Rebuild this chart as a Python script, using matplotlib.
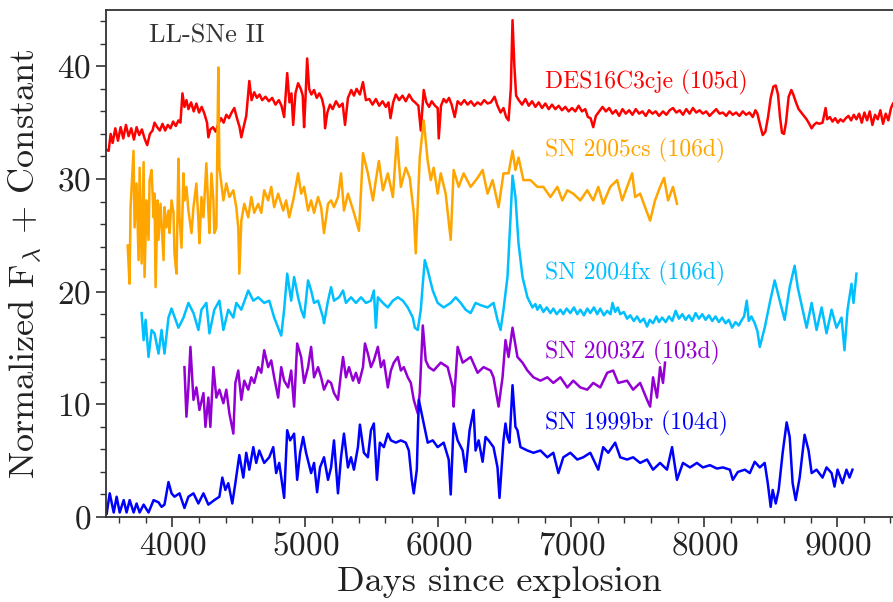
import numpy as np
import matplotlib
matplotlib.use("Agg")
import matplotlib.pyplot as plt
from matplotlib.ticker import MultipleLocator

# font like LaTeX computer modern
plt.rcParams['font.family'] = 'serif'
plt.rcParams['font.serif'] = ['cmr10']
plt.rcParams['mathtext.fontset'] = 'cm'
plt.rcParams['axes.formatter.use_mathtext'] = True

#Spectra (wavelength, flux + offset)
des_wave = [3500, 3520, 3535, 3550, 3570, 3590, 3610, 3630, 3650, 3670, 3690, 3710, 3730, 3750, 3770, 3790, 3810, 3830,
            3850, 3865, 3885, 3905, 3925, 3945, 3965, 3985, 4005, 4025, 4045, 4060, 4075, 4090, 4105, 4120, 4140, 4160,
            4180, 4200, 4220, 4240, 4260, 4270, 4285, 4305, 4325, 4345, 4365, 4385, 4405, 4425, 4445, 4465, 4485, 4505,
            4518, 4535, 4555, 4578, 4595, 4615, 4635, 4655, 4675, 4700, 4725, 4750, 4775, 4800, 4820, 4840, 4863, 4880,
            4895, 4908, 4925, 4945, 4965, 4980, 4990, 5000, 5013, 5028, 5045, 5065, 5085, 5105, 5125, 5140, 5148, 5165,
            5185, 5205, 5230, 5255, 5280, 5298, 5320, 5345, 5365, 5385, 5410, 5433, 5455, 5480, 5505, 5530, 5555, 5580,
            5605, 5625, 5640, 5660, 5680, 5705, 5730, 5755, 5780, 5805, 5825, 5850, 5868, 5890, 5910, 5930, 5950, 5975,
            5995, 6003, 6020, 6040, 6060, 6080, 6100, 6123, 6145, 6170, 6195, 6220, 6245, 6270, 6295, 6320, 6345, 6370,
            6395, 6423, 6445, 6468, 6490, 6510, 6528, 6545, 6558, 6572, 6585, 6605, 6630, 6655, 6680, 6705, 6730, 6755,
            6780, 6805, 6830, 6855, 6880, 6905, 6930, 6955, 6980, 7005, 7030, 7055, 7080, 7105, 7125, 7145, 7165, 7185,
            7210, 7235, 7260, 7285, 7310, 7335, 7360, 7385, 7410, 7435, 7460, 7485, 7510, 7535, 7560, 7585, 7610, 7635,
            7660, 7690, 7715, 7740, 7765, 7790, 7815, 7840, 7865, 7890, 7915, 7940, 7965, 7990, 8015, 8040, 8065, 8090,
            8115, 8140, 8165, 8190, 8215, 8240, 8265, 8290, 8315, 8340, 8365, 8385, 8400, 8420, 8440, 8460, 8480, 8500,
            8520, 8538, 8555, 8570, 8585, 8600, 8615, 8635, 8655, 8670, 8690, 8710, 8730, 8750, 8770, 8790, 8808, 8825,
            8845, 8865, 8890, 8913, 8925, 8945, 8965, 8985, 9005, 9025, 9045, 9065, 9085, 9105, 9125, 9145, 9165, 9185,
            9205, 9225, 9245, 9265, 9285, 9305, 9325, 9345, 9365, 9385, 9405, 9420]
des_flux = [32.6, 32.5, 34.0, 33.2, 34.5, 33.4, 34.6, 33.6, 34.8, 33.8, 34.5, 33.5, 34.6, 33.9, 34.4, 33.6, 33.0, 34.0,
            34.3, 35.0, 34.6, 34.3, 34.9, 34.3, 34.8, 34.5, 35.1, 34.7, 35.2, 35.0, 37.6, 36.4, 37.0, 36.2, 36.8, 36.0,
            36.7, 35.9, 36.4, 35.8, 35.0, 33.7, 34.4, 34.6, 34.2, 34.9, 35.4, 35.0, 35.7, 35.4, 35.9, 36.3, 35.4, 34.6,
            33.7, 34.6, 35.6, 38.7, 37.0, 37.7, 37.2, 37.5, 37.0, 37.3, 36.9, 37.2, 36.6, 37.0, 36.5, 35.5, 39.4, 36.8,
            37.6, 34.8, 37.6, 38.5, 38.0, 37.4, 34.6, 37.0, 40.7, 38.0, 37.5, 37.9, 37.2, 37.6, 37.1, 36.3, 34.5, 35.9,
            36.6, 36.2, 36.9, 36.4, 36.7, 34.8, 37.2, 37.9, 37.4, 38.0, 37.5, 38.6, 37.0, 37.1, 36.6, 37.1, 36.5, 36.9,
            36.4, 36.8, 35.4, 36.8, 37.5, 37.0, 37.4, 36.9, 37.5, 37.0, 36.8, 36.5, 34.3, 37.9, 36.8, 36.4, 36.9, 36.5,
            36.3, 33.6, 36.5, 37.1, 36.8, 37.2, 36.6, 35.5, 36.9, 36.6, 37.0, 36.6, 36.9, 36.5, 36.8, 36.6, 37.0, 36.7,
            36.8, 37.3, 36.5, 35.9, 36.3, 35.5, 35.2, 38.0, 44.1, 40.0, 37.4, 37.0, 36.6, 37.1, 36.5, 36.9, 36.4, 36.8,
            36.3, 36.7, 36.2, 36.6, 36.2, 36.5, 36.1, 36.4, 36.0, 36.3, 36.0, 36.5, 36.0, 36.2, 35.5, 35.4, 34.6, 35.6,
            36.0, 36.4, 36.0, 36.3, 35.8, 36.1, 35.6, 36.2, 35.8, 36.1, 35.7, 36.2, 35.8, 36.0, 35.6, 36.1, 35.8, 36.0,
            35.6, 36.0, 35.7, 36.1, 36.3, 35.9, 36.1, 35.7, 36.2, 35.8, 36.3, 35.9, 36.1, 35.8, 36.0, 35.6, 35.9, 36.2,
            35.8, 35.9, 35.6, 36.0, 35.7, 35.9, 35.6, 36.0, 35.7, 35.9, 35.5, 36.1, 35.8, 34.8, 33.9, 34.2, 35.5, 37.2,
            38.2, 38.3, 37.5, 35.5, 34.1, 34.0, 35.0, 37.3, 37.9, 37.5, 36.8, 36.2, 35.9, 35.6, 35.3, 34.9, 34.5, 34.8,
            35.0, 34.9, 35.0, 36.3, 35.3, 35.5, 35.1, 35.4, 35.0, 35.3, 35.1, 35.4, 35.6, 35.2, 35.7, 35.3, 35.8, 35.0,
            35.9, 35.2, 36.0, 34.8, 35.7, 35.3, 36.1, 34.9, 35.8, 35.2, 36.3, 36.7]

cs05_wave = [3663, 3677, 3685, 3707, 3715, 3730, 3745, 3753, 3768, 3783, 3790, 3805, 3820, 3828, 3843, 3858, 3865, 3873,
             3888, 3895, 3910, 3933, 3940, 3955, 3970, 3978, 3993, 4008, 4015, 4030, 4045, 4053, 4068, 4083, 4090, 4105,
             4120, 4143, 4158, 4180, 4195, 4203, 4218, 4233, 4255, 4270, 4278, 4293, 4308, 4315, 4330, 4345, 4353, 4383,
             4405, 4428, 4458, 4480, 4495, 4503, 4518, 4540, 4570, 4593, 4615, 4645, 4668, 4690, 4720, 4743, 4765, 4795,
             4833, 4855, 4878, 4908, 4945, 4968, 4990, 5020, 5043, 5065, 5095, 5118, 5140, 5170, 5193, 5215, 5245, 5268,
             5290, 5320, 5365, 5403, 5433, 5470, 5508, 5530, 5553, 5583, 5620, 5658, 5688, 5718, 5755, 5785, 5815, 5830,
             5860, 5890, 5920, 5943, 5965, 5995, 6018, 6055, 6093, 6115, 6153, 6190, 6243, 6295, 6333, 6370, 6408, 6453,
             6490, 6528, 6558, 6580, 6603, 6640, 6693, 6745, 6790, 6843, 6895, 6933, 6970, 7015, 7068, 7120, 7165, 7203,
             7240, 7293, 7345, 7383, 7420, 7458, 7480, 7518, 7555, 7593, 7630, 7668, 7698, 7728, 7765, 7795]
cs05_flux = [24.1, 20.7, 27.5, 32.5, 25.7, 29.6, 22.8, 31.0, 22.5, 31.5, 21.3, 28.1, 24.6, 29.9, 30.8, 26.6, 28.7, 20.4,
             28.1, 24.6, 27.8, 22.8, 27.5, 25.7, 27.2, 25.2, 28.1, 27.0, 23.4, 21.6, 31.8, 26.6, 23.9, 30.5, 28.1, 29.3,
             27.2, 25.2, 27.5, 29.6, 26.3, 24.3, 28.4, 26.6, 31.4, 27.2, 25.2, 30.5, 28.1, 25.2, 25.7, 39.9, 31.0, 28.1,
             29.6, 28.4, 29.0, 27.5, 25.7, 21.6, 26.3, 27.8, 26.6, 28.4, 27.0, 27.8, 27.0, 29.0, 28.1, 29.3, 27.5, 28.7,
             27.2, 28.1, 26.6, 28.1, 30.5, 28.7, 29.3, 27.2, 28.1, 27.0, 28.4, 27.5, 25.2, 27.8, 28.1, 27.5, 28.4, 30.5,
             27.2, 28.7, 27.0, 25.4, 32.3, 30.5, 28.1, 29.9, 31.6, 29.0, 30.5, 28.4, 33.7, 29.3, 31.0, 30.1, 27.0, 23.4,
             31.9, 35.2, 31.6, 29.9, 31.0, 28.7, 30.5, 28.7, 24.6, 30.8, 29.3, 30.5, 29.3, 30.1, 30.8, 28.7, 29.9, 27.5,
             30.5, 30.5, 32.5, 30.8, 31.9, 29.9, 29.9, 29.3, 29.3, 28.4, 29.3, 28.1, 29.0, 28.7, 28.1, 29.0, 28.1, 29.3,
             27.8, 29.3, 29.9, 28.1, 29.3, 30.5, 28.4, 28.7, 27.5, 26.3, 28.1, 29.3, 30.1, 28.1, 29.3, 27.8]

fx04_wave = [3768, 3783, 3798, 3820, 3843, 3865, 3895, 3918, 3940, 3970, 3993, 4045, 4083, 4120, 4158, 4195, 4218, 4255,
             4278, 4315, 4353, 4383, 4420, 4458, 4480, 4518, 4570, 4608, 4645, 4690, 4728, 4765, 4818, 4840, 4863, 4893,
             4915, 4945, 4968, 4990, 5020, 5043, 5065, 5095, 5133, 5140, 5170, 5193, 5215, 5253, 5283, 5305, 5343, 5380,
             5418, 5455, 5493, 5515, 5530, 5545, 5583, 5620, 5658, 5695, 5733, 5770, 5808, 5823, 5845, 5868, 5883, 5898,
             5920, 5958, 5995, 6040, 6093, 6130, 6168, 6205, 6243, 6280, 6318, 6370, 6415, 6445, 6468, 6490, 6520, 6543,
             6558, 6580, 6603, 6633, 6670, 6708, 6730, 6745, 6765, 6790, 6815, 6843, 6865, 6890, 6918, 6940, 6965, 6993,
             7020, 7045, 7068, 7095, 7120, 7143, 7170, 7195, 7218, 7245, 7270, 7295, 7310, 7330, 7350, 7368, 7395, 7420,
             7443, 7470, 7495, 7518, 7545, 7570, 7590, 7615, 7640, 7660, 7683, 7710, 7735, 7760, 7785, 7810, 7835, 7860,
             7885, 7910, 7935, 7960, 7985, 8010, 8035, 8060, 8085, 8110, 8135, 8160, 8185, 8210, 8235, 8260, 8283, 8300,
             8320, 8335, 8355, 8380, 8400, 8418, 8455, 8493, 8530, 8568, 8605, 8643, 8680, 8703, 8740, 8770, 8808, 8845,
             8883, 8920, 8958, 8995, 9033, 9055, 9078, 9108, 9123, 9145]
fx04_flux = [18.1, 15.7, 17.5, 14.2, 16.6, 16.3, 14.5, 16.6, 14.5, 17.7, 18.5, 16.8, 17.7, 19.0, 18.1, 16.6, 18.4, 19.0,
             16.3, 18.4, 19.2, 16.6, 18.4, 17.7, 19.0, 18.4, 20.1, 19.2, 19.5, 19.0, 19.2, 17.7, 16.1, 18.4, 21.6, 19.2,
             21.3, 19.5, 18.4, 17.7, 21.0, 20.1, 19.0, 19.2, 17.7, 17.2, 19.2, 20.4, 19.2, 19.5, 20.1, 19.0, 19.5, 19.0,
             19.5, 19.0, 19.2, 20.1, 16.8, 19.5, 19.0, 18.6, 19.2, 19.5, 19.2, 18.6, 17.7, 16.8, 16.6, 18.4, 20.7, 22.8,
             21.9, 20.1, 19.0, 18.6, 19.0, 19.5, 19.0, 18.4, 18.1, 19.0, 18.8, 18.6, 19.0, 17.5, 16.6, 18.4, 21.3, 26.6,
             30.3, 28.4, 24.3, 21.3, 19.5, 18.6, 18.9, 18.4, 18.8, 18.2, 18.6, 18.1, 18.5, 18.0, 18.4, 18.0, 18.5, 18.1,
             18.6, 18.0, 18.4, 17.9, 18.5, 18.1, 18.6, 18.0, 18.5, 17.9, 18.3, 18.0, 19.0, 18.2, 18.6, 18.0, 18.2, 17.6,
             17.9, 17.4, 17.8, 17.3, 17.6, 16.9, 17.5, 17.2, 17.8, 17.3, 17.7, 17.3, 17.8, 17.4, 18.3, 17.6, 18.0, 17.5,
             17.9, 17.4, 18.1, 17.6, 18.0, 17.5, 17.9, 17.4, 17.8, 17.3, 17.7, 17.2, 17.5, 16.8, 17.3, 17.0, 17.5, 17.8,
             19.2, 17.4, 17.8, 17.2, 16.5, 15.1, 16.8, 19.0, 21.0, 19.2, 17.5, 20.4, 22.3, 20.4, 18.4, 16.8, 19.0, 16.6,
             18.6, 16.3, 18.4, 16.8, 17.7, 14.8, 18.4, 20.7, 19.0, 21.6]

z03_wave = [4090, 4105, 4120, 4135, 4158, 4180, 4203, 4233, 4248, 4270, 4285, 4308, 4330, 4353, 4383, 4405, 4428, 4458,
            4473, 4495, 4518, 4540, 4570, 4593, 4615, 4645, 4668, 4690, 4720, 4743, 4765, 4795, 4818, 4840, 4870, 4893,
            4915, 4938, 4968, 4990, 5020, 5043, 5065, 5095, 5118, 5140, 5170, 5193, 5215, 5245, 5268, 5283, 5305, 5328,
            5358, 5380, 5403, 5433, 5448, 5470, 5493, 5515, 5545, 5568, 5590, 5620, 5643, 5665, 5695, 5718, 5740, 5770,
            5793, 5815, 5845, 5860, 5883, 5905, 5928, 5965, 6018, 6070, 6108, 6115, 6145, 6183, 6243, 6295, 6340, 6393,
            6415, 6453, 6483, 6505, 6528, 6558, 6595, 6633, 6670, 6715, 6768, 6820, 6865, 6918, 6970, 7015, 7068, 7120,
            7165, 7218, 7270, 7315, 7353, 7420, 7465, 7518, 7570, 7593, 7615, 7645, 7668, 7690, 7705]
z03_flux = [13.3, 8.9, 11.5, 15.1, 10.4, 11.5, 9.5, 11.0, 8.0, 10.6, 8.0, 13.3, 10.6, 11.3, 10.1, 11.3, 9.2, 7.4,
            11.9, 13.0, 10.4, 12.1, 11.3, 12.4, 11.9, 13.3, 12.8, 14.8, 13.3, 13.9, 12.4, 10.6, 13.3, 12.1, 11.5, 13.0,
            9.8, 15.4, 14.2, 11.9, 13.3, 15.1, 12.4, 13.3, 12.4, 11.3, 12.1, 11.9, 11.0, 10.4, 12.8, 14.2, 12.4, 13.3,
            12.1, 12.8, 11.9, 13.3, 15.4, 14.5, 13.3, 13.9, 15.1, 13.3, 13.9, 11.5, 13.0, 13.7, 14.2, 13.0, 13.3, 12.4,
            11.9, 10.4, 9.2, 11.0, 17.0, 13.9, 13.3, 13.0, 13.7, 13.3, 11.5, 9.8, 15.1, 13.7, 14.2, 12.8, 13.3, 13.0,
            12.4, 9.8, 12.4, 15.7, 14.2, 16.8, 14.2, 13.7, 13.0, 12.4, 12.1, 12.4, 11.9, 12.4, 11.5, 12.1, 11.5, 11.3,
            11.9, 11.5, 12.8, 13.0, 11.9, 12.1, 11.3, 11.9, 10.4, 9.8, 12.4, 10.6, 13.3, 11.9, 13.7]

br99_wave = [3505, 3528, 3558, 3580, 3603, 3633, 3655, 3678, 3708, 3730, 3753, 3783, 3820, 3858, 3895, 3918, 3940, 3970,
             3993, 4015, 4053, 4090, 4120, 4158, 4195, 4233, 4270, 4315, 4353, 4375, 4398, 4420, 4450, 4473, 4503, 4533,
             4555, 4578, 4608, 4630, 4653, 4690, 4728, 4758, 4780, 4803, 4840, 4863, 4885, 4915, 4938, 4960, 4983, 5005,
             5043, 5065, 5088, 5110, 5140, 5170, 5193, 5215, 5245, 5268, 5290, 5320, 5343, 5365, 5395, 5410, 5440, 5470,
             5493, 5515, 5538, 5560, 5590, 5620, 5643, 5680, 5718, 5755, 5778, 5800, 5815, 5838, 5853, 5890, 5920, 5958,
             5995, 6040, 6078, 6093, 6115, 6145, 6183, 6205, 6235, 6265, 6280, 6303, 6333, 6355, 6378, 6415, 6445, 6460,
             6490, 6505, 6520, 6535, 6558, 6580, 6595, 6618, 6670, 6715, 6768, 6820, 6865, 6903, 6940, 6993, 7045, 7090,
             7143, 7203, 7240, 7278, 7330, 7368, 7420, 7465, 7518, 7570, 7615, 7668, 7720, 7758, 7795, 7840, 7893, 7945,
             7990, 8043, 8095, 8140, 8193, 8215, 8253, 8305, 8343, 8380, 8418, 8455, 8478, 8500, 8515, 8538, 8560, 8590,
             8620, 8643, 8665, 8688, 8718, 8755, 8785, 8808, 8845, 8890, 8920, 8958, 8980, 9003, 9040, 9070, 9093, 9115]
br99_flux = [0.3, 2.1, 0.4, 1.8, 0.4, 1.5, 0.4, 1.5, 0.4, 1.2, 0.4, 1.1, 0.4, 1.5, 1.3, 0.9, 1.1, 3.1,
             2.1, 1.8, 2.1, 0.8, 1.8, 2.1, 1.2, 2.1, 1.1, 1.5, 1.8, 3.5, 2.4, 3.0, 1.2, 3.0, 5.5, 3.5,
             5.7, 4.2, 6.2, 4.8, 5.9, 4.8, 5.3, 6.2, 3.9, 4.8, 1.7, 7.7, 6.8, 7.4, 3.3, 5.7, 7.1, 5.7,
             3.9, 4.8, 2.2, 4.4, 5.3, 3.3, 4.4, 6.8, 2.1, 5.3, 7.4, 4.4, 5.3, 4.2, 6.2, 8.2, 5.7, 5.3,
             7.7, 8.3, 3.3, 6.6, 6.2, 7.4, 6.8, 6.6, 6.8, 6.6, 5.9, 3.3, 2.1, 4.2, 10.4, 8.3, 6.6, 6.8,
             6.2, 6.6, 5.1, 2.0, 8.3, 6.8, 5.9, 4.0, 7.7, 9.5, 5.9, 6.8, 4.9, 7.1, 6.8, 6.2, 4.4, 1.7,
             6.8, 8.3, 7.1, 6.6, 11.7, 8.0, 7.7, 6.2, 5.9, 5.7, 5.9, 5.3, 5.7, 3.9, 5.3, 5.7, 5.1, 5.3,
             5.7, 4.2, 6.2, 5.7, 6.6, 5.3, 5.1, 5.3, 4.8, 5.1, 4.2, 4.8, 4.2, 6.2, 3.3, 4.8, 4.4, 4.8,
             4.4, 4.6, 4.3, 4.4, 4.2, 3.3, 4.0, 4.2, 3.9, 4.9, 4.4, 4.8, 3.0, 0.9, 2.4, 1.2, 2.4, 5.7,
             8.4, 7.1, 3.0, 1.5, 3.5, 7.3, 5.9, 3.9, 4.2, 3.5, 4.4, 3.9, 2.7, 4.2, 3.0, 4.2, 3.5, 4.2]

names = ['DES16C3cje (105d)', 'SN 2005cs (106d)', 'SN 2004fx (106d)', 'SN 2003Z (103d)', 'SN 1999br (104d)']
colors = ['red', 'orange', 'deepskyblue', 'darkviolet', 'blue']
label_y = [38.6, 32.5, 21.6, 14.6, 8.3]

waves = [des_wave, cs05_wave, fx04_wave, z03_wave, br99_wave]
fluxes = [des_flux, cs05_flux, fx04_flux, z03_flux, br99_flux]

fig = plt.figure(figsize=(8.93, 6.02), dpi=100)
ax = fig.add_axes([0.1187, 0.1412, 0.8813, 0.8422])

for w, f, c in zip(waves, fluxes, colors):
    ax.plot(w, f, color=c, linewidth=1.8)

#labels next to each spectrum
for name, c, yy in zip(names, colors, label_y):
    ax.text(6805, yy, name, color=c, fontsize=17, va='center', ha='left')

ax.text(3820, 42.7, 'LL-SNe II', color='#333333', fontsize=19, va='center', ha='left')

ax.set_xlim(3500, 9420)
ax.set_ylim(0, 45)
ax.xaxis.set_major_locator(MultipleLocator(1000))
ax.xaxis.set_minor_locator(MultipleLocator(200))
ax.yaxis.set_major_locator(MultipleLocator(10))
ax.yaxis.set_minor_locator(MultipleLocator(2))
ax.tick_params(which='major', length=7, width=1.2, labelsize=24, colors='#333333', labelcolor='#222222')
ax.tick_params(which='minor', length=4, width=1.0, colors='#333333')

for s in ['left', 'bottom', 'top']:
    ax.spines[s].set_color('#333333')
    ax.spines[s].set_linewidth(1.3)
ax.spines['right'].set_visible(False)

ax.set_xlabel('Days since explosion', fontsize=26, color='#222222', labelpad=4)
ax.set_ylabel(r'Normalized F$_\lambda$ + Constant', fontsize=26, color='#222222', labelpad=10)

plt.savefig('out.png', dpi=100)
plt.close()
